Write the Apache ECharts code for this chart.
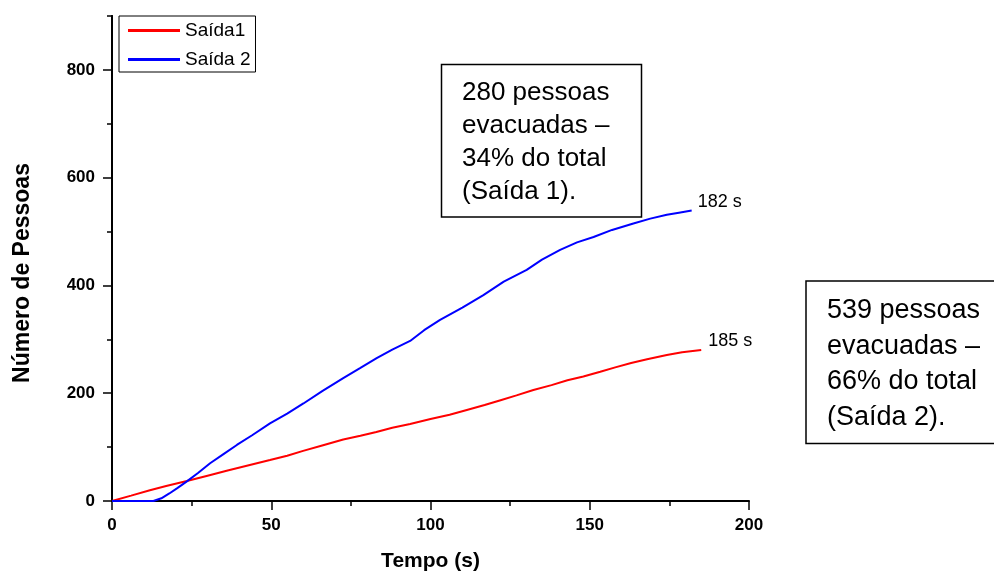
<!DOCTYPE html>
<html>
<head>
<meta charset="utf-8">
<script src="https://cdn.jsdelivr.net/npm/echarts@6/dist/echarts.min.js"></script>
<style>
  html, body { margin: 0; padding: 0; background: #fff; }
  #chart { width: 994px; height: 574px; }
</style>
</head>
<body>
<div id="chart"></div>
<script>
// tempo (s) e número de pessoas
const tempoSaida1 = [0, 6, 11.9, 17, 23.5, 30, 36, 42, 49.6, 55, 60, 66, 72.6, 78, 83, 88, 93.6, 100, 106, 111.4, 117, 122, 127, 132.3, 138, 143, 148, 153.3, 158, 163, 168, 174.2, 179, 185];
const pessoasSaida1 = [0, 10, 20, 28, 37, 47, 56, 65, 76, 84, 93, 103, 114, 121, 128, 136, 143, 152, 160, 169, 178, 187, 196, 206, 215, 224, 231, 240, 248, 256, 263, 271, 276, 280];

const tempoSaida2 = [0, 13, 15.5, 18, 20.5, 23.4, 27, 30.8, 35, 39.2, 44, 49.6, 55, 60.1, 66, 72.6, 78, 83.1, 88, 93.6, 98, 103, 110, 116.6, 123, 130.2, 135, 140.7, 146, 151.2, 157, 163.7, 169, 174.2, 178, 182];
const pessoasSaida2 = [0, 0, 5, 14, 24, 36, 52, 70, 87, 104, 122, 144, 162, 181, 204, 228, 247, 265, 281, 297, 317, 336, 359, 382, 407, 429, 448, 466, 480, 490, 503, 515, 524, 531, 535, 539];

const xTicks = [0, 50, 100, 150, 200];
const yMajorTicks = [0, 200, 400, 600, 800];
const yMinorTicks = [100, 300, 500, 700, 900];

const FONT = "'Liberation Sans', Arial, sans-serif";

const myChart = echarts.init(document.getElementById("chart"));

const axisLine = { show: true, lineStyle: { color: "#000", width: 2 } };

const options = {
  animation: false,
  backgroundColor: "#fff",
  grid: {
    left: 112,
    right: 245,
    top: 16,
    bottom: 73,
    containLabel: false,
    outerBoundsMode: "none",
  },
  legend: {
    left: 119,
    top: 16,
    orient: "vertical",
    icon: "rect",
    itemWidth: 52,
    itemHeight: 3,
    itemGap: 10,
    itemTextGap: 6,
    padding: [5, 5, 3, 9],
    borderColor: "#000",
    borderWidth: 1,
    textStyle: { color: "#000", fontSize: 19, fontFamily: FONT },
  },
  xAxis: {
    type: "value",
    min: xTicks[0],
    max: xTicks[xTicks.length - 1],
    interval: 50,
    name: "Tempo (s)",
    nameLocation: "middle",
    nameGap: 50,
    nameTextStyle: { color: "#000", fontSize: 21, fontWeight: "bold", fontFamily: FONT },
    axisLine: axisLine,
    axisTick: { show: true, length: 9, lineStyle: { color: "#000", width: 1.5 } },
    minorTick: { show: true, splitNumber: 2, length: 5, lineStyle: { color: "#000", width: 1.5 } },
    axisLabel: { color: "#000", fontSize: 17, fontWeight: "bold", fontFamily: FONT, margin: 16 },
    splitLine: { show: false },
  },
  yAxis: [
    {
      type: "value",
      min: 0,
      max: 900,
      name: "Número de Pessoas",
      nameLocation: "middle",
      nameGap: 78,
      nameTextStyle: {
        color: "#000",
        fontSize: 23,
        fontWeight: "bold",
        fontFamily: FONT,
        padding: [0, 29, 0, 0],
      },
      axisLine: axisLine,
      axisTick: { show: true, length: 9, customValues: yMajorTicks, lineStyle: { color: "#000", width: 1.5 } },
      axisLabel: {
        color: "#000",
        fontSize: 17,
        fontWeight: "bold",
        fontFamily: FONT,
        margin: 17,
        customValues: yMajorTicks,
      },
      splitLine: { show: false },
    },
    {
      // só para os traços menores
      type: "value",
      min: 0,
      max: 900,
      position: "left",
      axisLine: axisLine,
      axisTick: { show: true, length: 5, customValues: yMinorTicks, lineStyle: { color: "#000", width: 1.5 } },
      axisLabel: { show: false },
      splitLine: { show: false },
    },
  ],
  series: [
    {
      name: "Saída1",
      type: "line",
      data: tempoSaida1.map((t, i) => [t, pessoasSaida1[i]]),
      showSymbol: false,
      color: "#ff0000",
      lineStyle: { color: "#ff0000", width: 2 },
      endLabel: {
        show: true,
        formatter: "185 s",
        color: "#000",
        fontSize: 18,
        fontFamily: FONT,
        distance: 5,
        offset: [2, -9],
      },
    },
    {
      name: "Saída 2",
      type: "line",
      data: tempoSaida2.map((t, i) => [t, pessoasSaida2[i]]),
      showSymbol: false,
      color: "#0000ff",
      lineStyle: { color: "#0000ff", width: 2 },
      endLabel: {
        show: true,
        formatter: "182 s",
        color: "#000",
        fontSize: 18,
        fontFamily: FONT,
        distance: 5,
        offset: [1, -9],
      },
    },
  ],
  graphic: [
    {
      type: "rect",
      shape: { x: 441.5, y: 64.5, width: 200, height: 152.5 },
      style: { fill: "#fff", stroke: "#000", lineWidth: 1.5 },
      z: 10,
    },
    {
      type: "text",
      x: 462,
      y: 76,
      style: {
        text: "280 pessoas\nevacuadas –\n34% do total\n(Saída 1).",
        font: "26px " + FONT,
        fill: "#000",
        lineHeight: 33,
        verticalAlign: "top",
      },
      z: 11,
    },
    {
      type: "rect",
      shape: { x: 806, y: 281, width: 200, height: 162.5 },
      style: { fill: "#fff", stroke: "#000", lineWidth: 1.5 },
      z: 10,
    },
    {
      type: "text",
      x: 827,
      y: 293,
      style: {
        text: "539 pessoas\nevacuadas –\n66% do total\n(Saída 2).",
        font: "27px " + FONT,
        fill: "#000",
        lineHeight: 35.5,
        verticalAlign: "top",
      },
      z: 11,
    },
  ],
};

myChart.setOption(options);
</script>
</body>
</html>
